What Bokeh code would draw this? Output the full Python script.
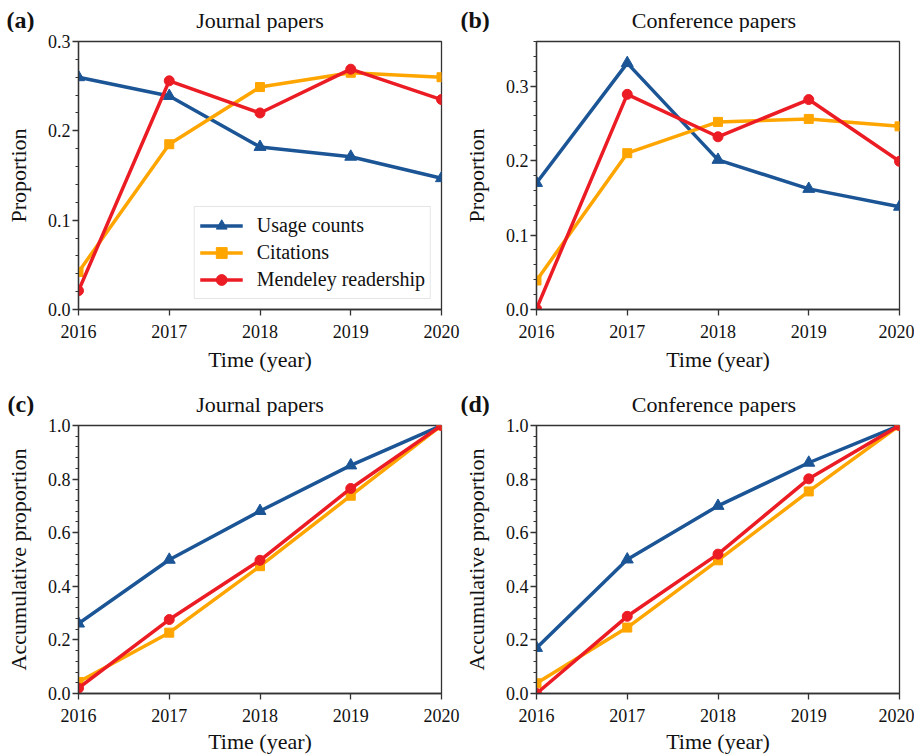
from bokeh.plotting import figure
from bokeh.layouts import column, row
from bokeh.models import Range1d, FixedTicker, Label, Legend, LegendItem, PrintfTickFormatter
from bokeh.embed import file_html
from bokeh.resources import INLINE

# ---------------- data ----------------
years = [2016, 2017, 2018, 2019, 2020]
series_names = ["Usage counts", "Citations", "Mendeley readership"]

journal_usage = [0.260, 0.239, 0.182, 0.171, 0.147]
journal_citations = [0.042, 0.185, 0.249, 0.265, 0.260]
journal_mendeley = [0.021, 0.256, 0.220, 0.269, 0.235]

conf_usage = [0.170, 0.331, 0.201, 0.162, 0.138]
conf_citations = [0.039, 0.210, 0.252, 0.256, 0.246]
conf_mendeley = [0.001, 0.289, 0.232, 0.282, 0.199]

journal_usage_acc = [0.261, 0.499, 0.681, 0.851, 1.0]
journal_citations_acc = [0.043, 0.227, 0.475, 0.738, 1.0]
journal_mendeley_acc = [0.020, 0.276, 0.497, 0.765, 1.0]

conf_usage_acc = [0.170, 0.500, 0.700, 0.861, 1.0]
conf_citations_acc = [0.038, 0.246, 0.497, 0.754, 1.0]
conf_mendeley_acc = [0.000, 0.288, 0.520, 0.801, 1.0]

prop_major = [0.0, 0.1, 0.2, 0.3]
prop_minor_a = [round(0.02 * i, 2) for i in range(0, 16)]
prop_minor_b = [round(0.02 * i, 2) for i in range(0, 19)]
acc_major = [0.0, 0.2, 0.4, 0.6, 0.8, 1.0]
acc_minor = [round(0.04 * i, 2) for i in range(0, 26)]

# ---------------- style ----------------
COLORS = ["#1b5596", "#ffa500", "#ec1c24"]
MARKERS = ["triangle", "square", "circle"]
MSIZES = [12, 9, 10]
FONT = "Liberation Serif"
FW, FH = 363, 268
TXT = "#111111"
TOP = 9  # space above each frame inside the panel figure


def make_strip(tag, title, width, height, tag_x, title_x, tag_y, title_y):
    s = figure(width=width, height=height, output_backend="svg",
               toolbar_location=None, x_axis_location=None, y_axis_location=None,
               x_range=Range1d(0, 1), y_range=Range1d(0, 1),
               min_border=0)
    s.outline_line_color = None
    s.xgrid.visible = False
    s.ygrid.visible = False
    s.add_layout(Label(x=tag_x, y=tag_y, x_units="screen", y_units="screen",
                       text=tag, text_font=FONT, text_font_style="bold",
                       text_font_size="24px", text_baseline="middle",
                       text_align="left", text_color=TXT))
    s.add_layout(Label(x=title_x, y=title_y, x_units="screen", y_units="screen",
                       text=title, text_font=FONT, text_font_size="22px",
                       text_baseline="middle", text_align="center",
                       text_color=TXT))
    return s


def make_fig(ylabel, ymax, major, minor, data, bl, br, bb, xstand, legend=False):
    p = figure(frame_width=FW, frame_height=FH, output_backend="svg",
               toolbar_location=None, x_range=Range1d(2016, 2020),
               y_range=Range1d(0, ymax),
               min_border_left=bl, min_border_right=br,
               min_border_top=TOP, min_border_bottom=bb)
    p.xgrid.visible = False
    p.ygrid.visible = False
    p.outline_line_color = "#333333"
    p.outline_line_width = 1.3

    p.xaxis.ticker = FixedTicker(ticks=years)
    p.yaxis.ticker = FixedTicker(ticks=major, minor_ticks=minor)
    p.yaxis.formatter = PrintfTickFormatter(format="%.1f")
    for ax in (p.xaxis, p.yaxis):
        ax.axis_line_color = "#333333"
        ax.axis_line_width = 1.3
        ax.major_tick_line_color = "#333333"
        ax.major_tick_line_width = 1.3
        ax.minor_tick_line_color = "#333333"
        ax.minor_tick_line_width = 1.1
        ax.major_tick_in = 0
        ax.major_tick_out = 6
        ax.minor_tick_in = 0
        ax.minor_tick_out = 3
        ax.major_label_text_font = FONT
        ax.major_label_text_font_size = "18px"
        ax.major_label_text_color = TXT
        ax.axis_label_text_font = FONT
        ax.axis_label_text_font_size = "22px"
        ax.axis_label_text_font_style = "normal"
        ax.axis_label_text_color = TXT
    p.xaxis.minor_tick_out = 0
    p.xaxis.major_label_standoff = 9
    p.xaxis.axis_label_standoff = xstand
    p.yaxis.major_label_standoff = 2
    p.yaxis.axis_label_standoff = 14
    p.xaxis.axis_label = "Time (year)"
    p.yaxis.axis_label = ylabel

    items = []
    for vals, name, c, m, s in zip(data, series_names, COLORS, MARKERS, MSIZES):
        lr = p.line(years, vals, line_color=c, line_width=3.5)
        sr = p.scatter(years, vals, marker=m, size=s, fill_color=c, line_color=c)
        items.append(LegendItem(label=name, renderers=[lr, sr]))

    if legend:
        lg = Legend(items=items, location="bottom_right", margin=10,
                    padding=5, spacing=0, glyph_width=43, glyph_height=27,
                    label_height=27, label_standoff=14,
                    label_text_font=FONT, label_text_font_size="20px",
                    label_text_color=TXT,
                    border_line_color="#cccccc", border_line_width=1.2,
                    background_fill_color="white", background_fill_alpha=0.85)
        p.add_layout(lg, "center")
    return p


WA, WB = 460, 450
H1 = 41 - TOP   # strip height above top row
H2 = 50 - TOP   # strip height above bottom row

sa = make_strip("(a)", "Journal papers", WA, H1, 6, 78 + FW / 2, 13, 12.5)
sb = make_strip("(b)", "Conference papers", WB, H1, 0, 72 + FW / 2, 13, 12.5)
sc = make_strip("(c)", "Journal papers", WA, H2, 7, 78 + FW / 2, 13, 12.5)
sd = make_strip("(d)", "Conference papers", WB, H2, 0, 72 + FW / 2, 13, 12.5)

pa = make_fig("Proportion", 0.3, prop_major, prop_minor_a,
              [journal_usage, journal_citations, journal_mendeley],
              78, 19, 66, 6, legend=True)
pb = make_fig("Proportion", 0.36, prop_major, prop_minor_b,
              [conf_usage, conf_citations, conf_mendeley],
              72, 15, 66, 6)
pc = make_fig("Accumulative proportion", 1.0, acc_major, acc_minor,
              [journal_usage_acc, journal_citations_acc, journal_mendeley_acc],
              78, 19, 61, 4)
pd = make_fig("Accumulative proportion", 1.0, acc_major, acc_minor,
              [conf_usage_acc, conf_citations_acc, conf_mendeley_acc],
              72, 15, 61, 4)

layout = column(row(sa, sb), row(pa, pb), row(sc, sd), row(pc, pd))

open("out.html", "w").write(file_html(layout, INLINE))
